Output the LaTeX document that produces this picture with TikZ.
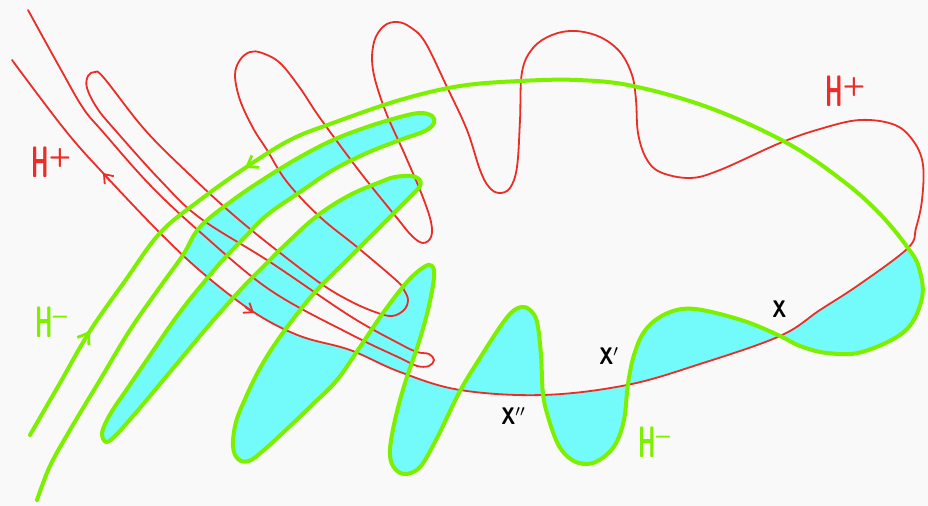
\documentclass[tikz,border=0pt]{standalone}
\usepackage{graphicx}
\usetikzlibrary{arrows.meta}

\definecolor{hplus}{RGB}{235,45,40}
\definecolor{hminus}{RGB}{125,240,0}
\definecolor{lobecyan}{RGB}{115,250,250}
\definecolor{paper}{RGB}{249,249,249}

% manifold names: narrow H with a raised sign
\newcommand{\hname}[1]{\scalebox{0.5}[1]{\fontsize{22}{22}\selectfont H}\raisebox{6.5pt}{\fontsize{13}{13}\selectfont #1}}
\newcommand{\xname}[1]{\scalebox{0.8}[1]{X}#1}

\tikzset{
  manifoldP/.style={draw=hplus, line width=0.9pt, line join=round, line cap=round},
  manifoldM/.style={draw=hminus, line width=2pt, line join=round, line cap=round},
  lobe/.style={fill=lobecyan, even odd rule},
  flowP/.style={hplus, line width=0.9pt, -{Straight Barb[length=4pt,width=6pt]}},
  flowM/.style={hminus, line width=1.4pt, -{Straight Barb[length=5pt,width=7pt]}},
  tagP/.style={text=hplus, inner sep=0pt, anchor=base west, font=\sffamily\bfseries},
  tagM/.style={text=hminus, inner sep=0pt, anchor=base west, font=\sffamily\bfseries},
  tagX/.style={text=black, inner sep=0pt, anchor=base west, font=\sffamily\bfseries\fontsize{12}{12}\selectfont}
}

\begin{document}
\begin{tikzpicture}[x=0.5pt, y=-0.5pt]
\useasboundingbox (0,0) rectangle (928,506);
\fill[paper] (0,0) rectangle (928,506);

% lobes: green arcs closed by the lower branch of H+
\fill[lobe] plot[smooth, tension=.6] coordinates {
  (908,248) (919,268) (922,298) (905,331) (862,352) (827,353) (800,346) (780,336)
  (747,322) (707,311) (682,309) (660,317) (644,332) (634,355) (628,384) (624,420)
  (615,445) (601,459) (587,464) (572,460) (559,446) (549,420) (543,394) (541,355)
  (537,322) (530,310) (522,307) (512,312) (500,327) (480,358) (460,391) (437,438)
  (420,467) (404,474) (393,466) (390,450) (395,420) (405,383) (418,345) (428,310)
  (434,278) (432,266) (424,267) (407,282) (383,313) (360,347) (337,380) (312,405)
  (288,428) (264,450) (249,461) (238,459) (233,446) (236,422) (246,397) (258,372)
  (273,347) (294,318) (317,290) (350,257) (390,217) (410,197) (420,186) (419,179)
  (410,176) (395,177) (383,181) (350,195) (317,216) (285,245) (265,265) (245,285)
  (225,307) (205,330) (185,354) (165,378) (145,402) (127,423) (114,437) (106,442)
  (102,434) (106,422) (114,408) (125,392) (140,370) (155,348) (170,326) (187,303)
  (205,281) (222,261) (245,237) (267,215) (300,192) (333,170) (367,153) (400,140)
  (425,131) (434,123) (432,116) (420,113) (400,117) (367,127) (333,140) (300,157)
  (267,177) (233,200) (200,227) (183,255)}
  -- plot[smooth, tension=.6] coordinates {
  (183,255) (205,275) (255,313) (300,336) (350,350) (400,372) (460,390) (543,395)
  (627,385) (700,364) (780,336) (820,310) (860,284) (908,248)} -- cycle;

% H+
\draw[manifoldP] plot[smooth, tension=.6] coordinates {
  (28,10) (60,68) (83,108) (103,132) (150,185) (200,232) (270,290) (350,334)
  (400,358) (417,366) (429,366) (434,360) (429,354) (417,352) (400,344) (350,316)
  (270,262) (200,218) (160,180) (115,130) (97,108) (87,88) (88,76) (95,72)
  (104,78) (145,130) (190,175) (230,212) (270,245) (320,283) (350,301) (375,312)
  (392,316) (404,310) (408,300) (404,290) (397,281) (357,247) (320,217) (287,182)
  (267,150) (253,128) (240,100) (235,75) (240,60) (250,52) (262,53) (280,63)
  (300,88) (320,118) (360,172) (397,218) (412,236) (423,243) (431,237) (431,222)
  (422,195) (405,155) (385,110) (373,70) (374,42) (384,26) (397,22) (410,27)
  (425,42) (447,87) (467,130) (480,170) (489,187) (499,193) (510,188) (517,167)
  (520,120) (522,72) (533,48) (552,35) (575,31) (600,37) (620,52) (632,75)
  (636,100) (638,133) (646,158) (660,172) (690,178) (720,170) (780,143) (820,129)
  (860,120) (895,125) (914,142) (923,165) (922,200) (916,228) (908,248) (860,284)
  (820,310) (780,336) (700,364) (627,385) (543,395) (460,390) (400,372) (350,350)
  (300,336) (255,313) (205,275) (160,233) (103,173) (65,130) (12,60)};

% H-
\draw[manifoldM] plot[smooth, tension=.6] coordinates {
  (30,435) (60,383) (90,331) (125,281) (160,233) (200,200) (245,168) (290,140)
  (333,123) (400,100) (460,86) (520,81) (577,80) (633,86) (710,108) (787,143)
  (843,181) (880,214)
  (908,248) (919,268) (922,298) (905,331) (862,352) (827,353) (800,346) (780,336)
  (747,322) (707,311) (682,309) (660,317) (644,332) (634,355) (628,384) (624,420)
  (615,445) (601,459) (587,464) (572,460) (559,446) (549,420) (543,394) (541,355)
  (537,322) (530,310) (522,307) (512,312) (500,327) (480,358) (460,391) (437,438)
  (420,467) (404,474) (393,466) (390,450) (395,420) (405,383) (418,345) (428,310)
  (434,278) (432,266) (424,267) (407,282) (383,313) (360,347) (337,380) (312,405)
  (288,428) (264,450) (249,461) (238,459) (233,446) (236,422) (246,397) (258,372)
  (273,347) (294,318) (317,290) (350,257) (390,217) (410,197) (420,186) (419,179)
  (410,176) (395,177) (383,181) (350,195) (317,216) (285,245) (265,265) (245,285)
  (225,307) (205,330) (185,354) (165,378) (145,402) (127,423) (114,437) (106,442)
  (102,434) (106,422) (114,408) (125,392) (140,370) (155,348) (170,326) (187,303)
  (205,281) (222,261) (245,237) (267,215) (300,192) (333,170) (367,153) (400,140)
  (425,131) (434,123) (432,116) (420,113) (400,117) (367,127) (333,140) (300,157)
  (267,177) (233,200) (200,227) (183,255) (160,287) (130,330) (100,380) (70,430)
  (50,466) (37,500)};

% flow directions
\draw[flowP] (110,181) -- (103,173);
\draw[flowP] (245,307) -- (254,313);
\draw[flowM] (86,337) -- (90,331);
\draw[flowM] (253,163) -- (245,168);

% labels
\node[tagP] (hpl) at (31,178) {\hname{+}};
\node[tagP] (hpr) at (825,107) {\hname{+}};
\node[tagM] (hml) at (35,338) {\hname{\textendash}};
\node[tagM] (hmr) at (638,458) {\hname{\textendash}};
\node[tagX] (x0) at (772,318) {\xname{}};
\node[tagX] (x1) at (599,365) {\xname{$'$}};
\node[tagX] (x2) at (501,425) {\xname{$''$}};
\end{tikzpicture}
\end{document}
